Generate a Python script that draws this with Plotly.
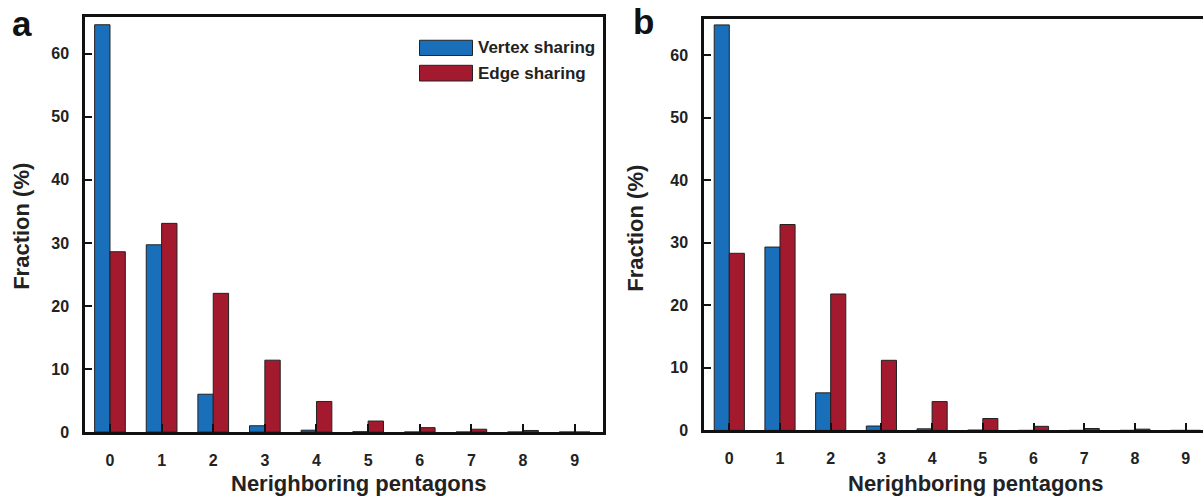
import plotly.graph_objects as go

# Distribution of neighbouring pentagons, two samples (a, b)
neighbors = [0, 1, 2, 3, 4, 5, 6, 7, 8, 9]
tick_labels = ["0", "1", "2", "3", "4", "5", "6", "7", "8", "9"]

vertex_a = [64.6, 29.7, 6.0, 1.0, 0.3, 0.05, 0.0, 0.0, 0.0, 0.0]
edge_a = [28.6, 33.1, 22.0, 11.4, 4.85, 1.75, 0.7, 0.45, 0.25, 0.0]

vertex_b = [64.8, 29.3, 6.0, 0.7, 0.25, 0.05, 0.0, 0.0, 0.0, 0.0]
edge_b = [28.3, 32.9, 21.8, 11.2, 4.6, 1.9, 0.65, 0.3, 0.2, 0.0]

series_names = ["Vertex sharing", "Edge sharing"]
BLUE = "#1a6fba"
RED = "#a3192e"
FONT = "Liberation Sans, Arial, sans-serif"

W, H = 1203, 499


def px(x):
    return x / W


def py(y):
    return 1 - y / H


fig = go.Figure()

for vals, col, name, xa, ya in [
    (vertex_a, BLUE, series_names[0], "x", "y"),
    (edge_a, RED, series_names[1], "x", "y"),
    (vertex_b, BLUE, series_names[0], "x2", "y2"),
    (edge_b, RED, series_names[1], "x2", "y2"),
]:
    fig.add_trace(go.Bar(
        x=neighbors, y=vals, name=name, xaxis=xa, yaxis=ya,
        marker=dict(color=col, line=dict(color="#222222", width=1)),
        showlegend=False,
    ))

axis_common = dict(
    showline=True, linecolor="#111111", linewidth=2.5,
    showgrid=False, zeroline=False,
    ticks="inside", tickcolor="#111111", tickwidth=2,
    tickfont=dict(family=FONT, size=16, color="#222222", weight="bold"),
)

fig.update_layout(
    width=W, height=H,
    margin=dict(l=0, r=0, t=0, b=0),
    paper_bgcolor="white", plot_bgcolor="white",
    barmode="group", bargap=0.405, bargroupgap=0,
    font=dict(family=FONT, color="#222222"),
    xaxis=dict(domain=[px(85), px(603)], range=[-0.484, 9.55],
               tickvals=neighbors, ticktext=tick_labels, ticklen=8,
               ticklabelstandoff=12, anchor="y", mirror=True, **axis_common),
    yaxis=dict(domain=[py(440), py(17.5)], range=[0, 65.8],
               tickvals=[0, 10, 20, 30, 40, 50, 60], ticklen=7,
               ticklabelstandoff=10, anchor="x", mirror=True, **axis_common),
    xaxis2=dict(domain=[px(704), 1.0], range=[-0.499, 9.343],
                tickvals=neighbors, ticktext=tick_labels, ticklen=8,
                ticklabelstandoff=12, anchor="y2", mirror=True, **axis_common),
    yaxis2=dict(domain=[py(438.3), py(19)], range=[0, 65.8],
                tickvals=[0, 10, 20, 30, 40, 50, 60], ticklen=7,
                ticklabelstandoff=10, anchor="x2", mirror=False, **axis_common),
)

title_font = dict(family=FONT, size=22, color="#222222", weight="bold")
annotations = [
    dict(text="Nerighboring pentagons", x=px(358), y=py(492)),
    dict(text="Nerighboring pentagons", x=px(976), y=py(492)),
    dict(text="Fraction (%)", x=px(22), y=py(231), textangle=-90),
    dict(text="Fraction (%)", x=px(636), y=py(233), textangle=-90),
]
for a in annotations:
    fig.add_annotation(xref="paper", yref="paper", showarrow=False,
                       xanchor="center", yanchor="middle", font=title_font, **a)

panel_font = dict(family=FONT, size=35, color="#111111", weight="bold")
fig.add_annotation(text="a", xref="paper", yref="paper", x=px(22), y=py(24),
                   showarrow=False, xanchor="center", yanchor="middle", font=panel_font)
fig.add_annotation(text="b", xref="paper", yref="paper", x=px(643), y=py(22),
                   showarrow=False, xanchor="center", yanchor="middle", font=panel_font)

# Legend: wide colour swatches with labels, top right of panel a
legend_rows = [(series_names[0], BLUE, 41, 56.5), (series_names[1], RED, 66.5, 82.5)]
for name, col, y0, y1 in legend_rows:
    fig.add_shape(type="rect", xref="paper", yref="paper",
                  x0=px(419.5), x1=px(472.5), y0=py(y1), y1=py(y0),
                  fillcolor=col, line=dict(color="#222222", width=1))
    fig.add_annotation(text=name, xref="paper", yref="paper",
                       x=px(476), y=py((y0 + y1) / 2), showarrow=False,
                       xanchor="left", yanchor="middle",
                       font=dict(family=FONT, size=17, color="#222222", weight="bold"))

fig.write_html("out.html")
